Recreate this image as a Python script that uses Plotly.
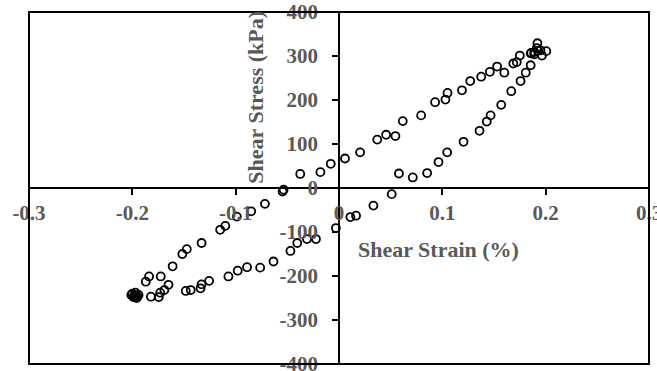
import plotly.graph_objects as go

strain = [
    0.1855, 0.1807, 0.1757, 0.1667, 0.157, 0.1467, 0.143, 0.136, 0.1205, 0.1047,
    0.0963, 0.0853, 0.0714, 0.058, 0.051, 0.0333, 0.0165, 0.011, -0.003, -0.0223,
    -0.031, -0.0404, -0.047, -0.0634, -0.0763, -0.089, -0.098, -0.107, -0.1257, -0.133,
    -0.134, -0.1435, -0.1483, -0.165, -0.169, -0.1744, -0.173, -0.182,
    -0.1967, -0.200, -0.198, -0.196, -0.199, -0.194, -0.201, -0.197, -0.195,
    -0.187, -0.1838, -0.1725, -0.161, -0.1516, -0.1473, -0.133, -0.115, -0.110,
    -0.0989, -0.085, -0.0717, -0.0546, -0.0536, -0.0375, -0.018, -0.008, 0.0058, 0.0204,
    0.037, 0.0456, 0.0546, 0.0617, 0.0795, 0.093, 0.103, 0.105, 0.119, 0.127,
    0.1376, 0.146, 0.153, 0.160, 0.1687, 0.172, 0.175, 0.1855, 0.189, 0.192,
    0.1915, 0.195, 0.2006, 0.1964, 0.1925, 0.189, 0.186,
]
stress = [
    279, 262, 243, 220, 189, 165, 151, 130, 105, 81,
    59, 34, 24, 33, -14, -40, -63, -66, -91, -116,
    -116, -125, -143, -167, -181, -180, -188, -201, -211, -219,
    -228, -232, -234, -220, -232, -248, -238, -247,
    -247, -240, -245, -250, -248, -243, -243, -238, -247,
    -213, -201, -201, -178, -150, -139, -125, -95, -86,
    -65, -53, -36, -8, -4, 32, 36, 55, 67, 81,
    110, 121, 118, 152, 165, 195, 201, 216, 222, 243,
    253, 264, 276, 262, 283, 286, 301, 306, 309, 329,
    318, 313, 311, 301, 312, 304, 307,
]

x_ticks = [-0.3, -0.2, -0.1, 0, 0.1, 0.2, 0.3]
x_tick_text = ["-0.3", "-0.2", "-0.1", "0", "0.1", "0.2", "0.3"]
y_ticks = [-400, -300, -200, -100, 0, 100, 200, 300, 400]
y_tick_text = ["-400", "-300", "-200", "-100", "0", "100", "200", "300", "400"]

x_title = "Shear Strain (%)"
y_title = "Shear Stress (kPa)"

grey = "#595959"
tick_font = dict(family="Liberation Serif", size=21, color=grey, weight="bold")
title_font = dict(family="Liberation Serif", size=22, color=grey, weight="bold")

fig = go.Figure()
fig.add_trace(go.Scatter(
    x=strain, y=stress, mode="markers",
    marker=dict(symbol="circle-open", size=8, color="black", line=dict(width=1.8, color="black")),
    showlegend=False, cliponaxis=False, hoverinfo="skip",
))

axis_common = dict(
    showgrid=False, zeroline=False, showline=True, linecolor="black", linewidth=1.5,
    ticks="outside", ticklen=6, tickwidth=1.5, tickcolor="black",
    anchor="free", position=0.5, tickfont=tick_font, automargin=False,
    ticklabeloverflow="allow",
)

fig.update_layout(
    width=657, height=371, autosize=False,
    margin=dict(l=29, r=8, t=12, b=7, autoexpand=False),
    paper_bgcolor="white", plot_bgcolor="white",
    xaxis=dict(range=[-0.3, 0.3], tickvals=x_ticks, ticktext=x_tick_text, **axis_common),
    yaxis=dict(range=[-400, 400], tickvals=y_ticks, ticktext=y_tick_text,
               ticklabelstandoff=10, **axis_common),
    shapes=[dict(type="rect", xref="paper", yref="paper", x0=0, x1=1, y0=0, y1=1,
                 line=dict(color="black", width=2), layer="above")],
    annotations=[
        dict(x=0.096, y=-140, xref="x", yref="y", text=x_title, showarrow=False,
             font=title_font),
        dict(x=-0.081, y=206, xref="x", yref="y", text=y_title, showarrow=False,
             textangle=-90, font=title_font),
    ],
)

fig.write_html(
    "out.html",
    config={"displayModeBar": False},
    post_script="document.body.style.margin='0';document.body.style.padding='0';document.body.style.overflow='hidden';",
)
